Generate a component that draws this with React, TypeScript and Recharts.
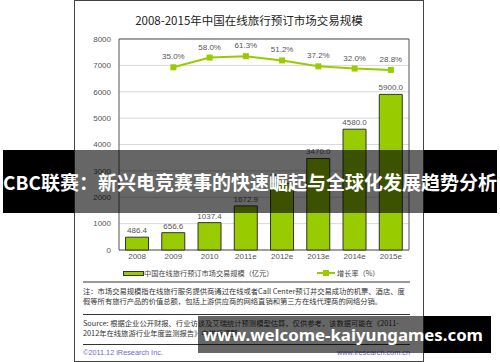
import React from "react";
import {
  ComposedChart,
  Bar,
  Line,
  XAxis,
  YAxis,
  CartesianGrid,
  LabelList,
  ReferenceArea,
} from "recharts";

const years = ["2008", "2009", "2010", "2011e", "2012e", "2013e", "2014e", "2015e"];
const marketSize = [486.4, 656.6, 1037.4, 1672.9, 2529.4, 3470.0, 4580.0, 5900.0];
const growthRate = [null, 35.0, 58.0, 61.3, 51.2, 37.2, 32.0, 28.8];
const yTicks = [0, 1000, 2000, 3000, 4000, 5000, 6000, 7000, 8000];

const data = years.map((year, i) => ({ year, size: marketSize[i], growth: growthRate[i] }));

const GREEN = "#99cc00";
const FONT = '"Liberation Sans", "Noto Sans CJK SC", sans-serif';
const CJK = '"Noto Sans CJK SC", "Liberation Sans", sans-serif';

const SquareDot = (props: any) => {
  const { cx, cy, index } = props;
  if (cx == null || cy == null || props.value == null) return <g key={index} />;
  return <rect key={index} x={cx - 3} y={cy - 3} width={6} height={6} fill={GREEN} />;
};

const abs = (s: React.CSSProperties): React.CSSProperties => ({ position: "absolute", ...s });

export default function App() {
  return (
    <div style={abs({ left: 0, top: 0, width: 500, height: 362, background: "#fff", overflow: "hidden", fontFamily: CJK })}>
      {/* chart frame */}
      <div style={abs({ left: 74, top: 0, width: 350, height: 362, border: "1px solid #444", boxSizing: "border-box" })} />

      <div style={abs({ left: 74, top: 12, width: 350, textAlign: "center", fontSize: 11.5, color: "#222", lineHeight: "16px" })}>
        2008-2015年中国在线旅行预订市场交易规模
      </div>

      <div style={abs({ left: 0, top: 0 })}>
        <ComposedChart width={500} height={362} data={data} margin={{ top: 39, right: 91, bottom: 92, left: 0 }} barCategoryGap="18%">
          <CartesianGrid vertical={false} stroke="#d8d8d8" />
          <XAxis
            dataKey="year"
            height={20}
            axisLine={false}
            tickLine={false}
            tickSize={2}
            tickMargin={1}
            tick={{ fill: "#555", fontSize: 8, fontFamily: FONT }}
          />
          <YAxis
            width={119}
            domain={[0, 8000]}
            ticks={yTicks}
            axisLine={false}
            tickLine={false}
            tick={{ fill: "#555", fontSize: 8, fontFamily: FONT }}
          />
          <YAxis yAxisId="right" orientation="right" hide domain={[-398, 102]} />
          <ReferenceArea y1={0} y2={8000} fill="none" stroke="#555" strokeWidth={1} />
          <Bar dataKey="size" fill={GREEN} stroke="#333" strokeWidth={1} isAnimationActive={false}>
            <LabelList
              dataKey="size"
              position="top"
              offset={4}
              formatter={(v: any) => Number(v).toFixed(1)}
              style={{ fill: "#555", fontSize: 8, fontFamily: FONT }}
            />
          </Bar>
          <Line
            yAxisId="right"
            dataKey="growth"
            stroke={GREEN}
            strokeWidth={2}
            dot={SquareDot}
            activeDot={false}
            isAnimationActive={false}
          >
            <LabelList
              dataKey="growth"
              position="top"
              offset={8}
              formatter={(v: any) => (v == null ? "" : Number(v).toFixed(1) + "%")}
              style={{ fill: "#555", fontSize: 8, fontFamily: FONT }}
            />
          </Line>
        </ComposedChart>
      </div>

      {/* legend */}
      <div style={abs({ left: 123, top: 271, width: 19, height: 3, background: GREEN, border: "1px solid #333" })} />
      <div style={abs({ left: 144, top: 267, fontSize: 7.2, color: "#444", lineHeight: "12px", whiteSpace: "nowrap" })}>
        中国在线旅行预订市场交易规模（亿元）
      </div>
      <div style={abs({ left: 317, top: 272, width: 18, height: 2, background: GREEN })} />
      <div style={abs({ left: 323, top: 270, width: 6, height: 6, background: GREEN })} />
      <div style={abs({ left: 337, top: 267, fontSize: 7.2, color: "#444", lineHeight: "12px", whiteSpace: "nowrap" })}>
        增长率（%）
      </div>

      {/* notes */}
      <div style={abs({ left: 83, top: 281, width: 327, height: 2, background: "#999" })} />
      <div style={abs({ left: 83, top: 287, fontSize: 7.3, color: "#333", lineHeight: "9.5px", whiteSpace: "nowrap" })}>
        <div>注：市场交易规模指在线旅行服务提供商通过在线或者Call Center预订并交易成功的机票、酒店、度</div>
        <div>假等所有旅行产品的价值总额，包括上游供应商的网络直销和第三方在线代理商的网络分销。</div>
      </div>
      <div style={abs({ left: 83, top: 314, width: 327, height: 1, background: "#333" })} />
      <div style={abs({ left: 83, top: 319, fontSize: 7.3, color: "#333", lineHeight: "9.5px", whiteSpace: "nowrap" })}>
        <div>Source: 根据企业公开财报、行业访谈及艾瑞统计预测模型估算，仅供参考，该数据可能在《2011-</div>
        <div>2012年在线旅游行业年度监测报告》中进行调整。</div>
      </div>
      <div style={abs({ left: 83, top: 344, width: 327, height: 1, background: "#333" })} />
      <div style={abs({ left: 83, top: 348, fontSize: 7.3, color: "#6a6acc", lineHeight: "10px", fontFamily: FONT })}>
        ©2011.12 iResearch Inc.
      </div>
      <div style={abs({ left: 250, top: 348, width: 160, textAlign: "right", fontSize: 7.3, color: "#6a6acc", lineHeight: "10px", fontFamily: FONT })}>
        www.iresearch.com.cn
      </div>

      {/* title banner overlay */}
      <div style={abs({ left: 3, top: 150, width: 71, height: 63, background: "#000" })} />
      <div style={abs({ left: 74, top: 150, width: 350, height: 63, background: "rgba(0,0,0,0.6)" })} />
      <div style={abs({ left: 424, top: 150, width: 73, height: 63, background: "#000" })} />
      <div style={abs({ left: 3, top: 150, width: 494, height: 63, lineHeight: "63px", textAlign: "center", color: "#fff", fontSize: 19, fontWeight: 700, whiteSpace: "nowrap" })}>
        CBC联赛：新兴电竞赛事的快速崛起与全球化发展趋势分析
      </div>

      {/* watermark */}
      <div style={abs({ left: 198, top: 316, width: 226, height: 37, background: "rgba(0,0,0,0.6)" })} />
      <div style={abs({ left: 424, top: 316, width: 67, height: 37, background: "#000" })} />
      <div style={abs({ left: 198, top: 316, width: 290, height: 37, lineHeight: "37px", textAlign: "center", color: "#fff", fontSize: 16.8, fontWeight: 700, fontFamily: '"Noto Sans", sans-serif', whiteSpace: "nowrap" })}>
        www.welcome-kaiyungames.com
      </div>
    </div>
  );
}
